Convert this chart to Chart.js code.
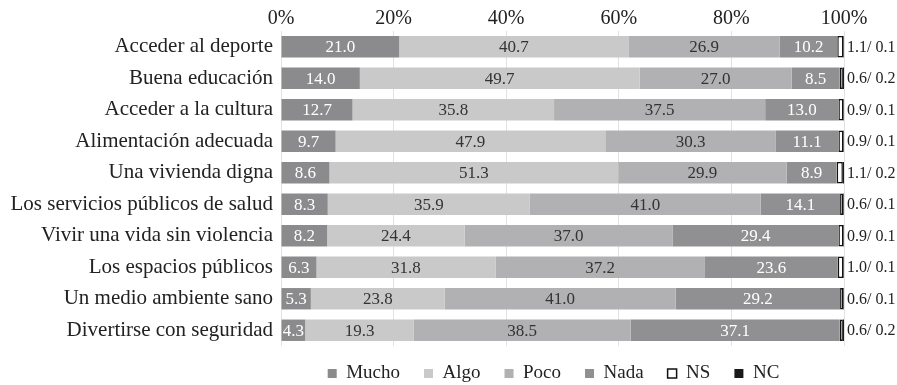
<!DOCTYPE html>
<html lang="es">
<head>
<meta charset="utf-8">
<title>Derechos</title>
<script src="https://cdn.jsdelivr.net/npm/chart.js@4.4.1/dist/chart.umd.min.js"></script>
<style>
    html, body { margin: 0; padding: 0; background: #fff; }
    #grafica-wrap { width: 897px; height: 385px; position: relative; }
</style>
</head>
<body>
<div id="grafica-wrap"><canvas id="grafica"></canvas></div>
<script>
// Categorías (eje vertical)
const categorias = [
    "Acceder al deporte",
    "Buena educación",
    "Acceder a la cultura",
    "Alimentación adecuada",
    "Una vivienda digna",
    "Los servicios públicos de salud",
    "Vivir una vida sin violencia",
    "Los espacios públicos",
    "Un medio ambiente sano",
    "Divertirse con seguridad"
];

// Porcentajes por respuesta
const mucho = [21.0, 14.0, 12.7, 9.7, 8.6, 8.3, 8.2, 6.3, 5.3, 4.3];
const algo  = [40.7, 49.7, 35.8, 47.9, 51.3, 35.9, 24.4, 31.8, 23.8, 19.3];
const poco  = [26.9, 27.0, 37.5, 30.3, 29.9, 41.0, 37.0, 37.2, 41.0, 38.5];
const nada  = [10.2, 8.5, 13.0, 11.1, 8.9, 14.1, 29.4, 23.6, 29.2, 37.1];
const ns    = [1.1, 0.6, 0.9, 0.9, 1.1, 0.6, 0.9, 1.0, 0.6, 0.6];
const nc    = [0.1, 0.2, 0.1, 0.1, 0.2, 0.1, 0.1, 0.1, 0.1, 0.2];

// Etiquetas del eje horizontal
const ticksX = [0, 20, 40, 60, 80, 100];

const FUENTE = "'Liberation Serif', 'DejaVu Serif', serif";

// Escribe el valor dentro de cada segmento y "NS/ NC" a la derecha
const etiquetasValores = {
    id: "etiquetasValores",
    afterDatasetsDraw(chart) {
        const ctx = chart.ctx;
        ctx.save();
        ctx.font = "17px " + FUENTE;
        ctx.textBaseline = "middle";
        chart.data.datasets.forEach((ds, i) => {
            if (i > 3) return;
            const meta = chart.getDatasetMeta(i);
            meta.data.forEach((bar, j) => {
                ctx.fillStyle = ds.colorTexto;
                ctx.textAlign = "center";
                ctx.fillText(ds.data[j].toFixed(1), (bar.x + bar.base) / 2, bar.y + 1);
            });
        });
        // valores NS / NC a la derecha de la barra
        const metaNs = chart.getDatasetMeta(4);
        ctx.font = "16px " + FUENTE;
        ctx.fillStyle = "#222";
        ctx.textAlign = "left";
        metaNs.data.forEach((bar, j) => {
            ctx.fillText(ns[j].toFixed(1) + "/ " + nc[j].toFixed(1), chart.chartArea.right + 3, bar.y + 1);
        });
        ctx.restore();
    }
};

// Leyenda: alto fijo y posición ajustada bajo las barras
const ajusteLeyenda = {
    id: "ajusteLeyenda",
    beforeInit(chart) {
        const lg = chart.legend;
        const fitOrig = lg.fit;
        lg.fit = function () {
            fitOrig.call(this);
            this.height = 37;
        };
    },
    afterLayout(chart) {
        const lg = chart.legend;
        lg.top -= 6;
        lg.bottom = chart.height;
        lg.left -= 9;
        lg.right -= 9;
    }
};

function serie(label, data, color, colorTexto, extra) {
    return Object.assign({
        label: label,
        data: data,
        backgroundColor: color,
        borderWidth: 0,
        colorTexto: colorTexto,
        barPercentage: 0.68,
        categoryPercentage: 1
    }, extra || {});
}

new Chart(document.getElementById("grafica"), {
    type: "bar",
    data: {
        labels: categorias,
        datasets: [
            serie("Mucho", mucho, "#8b8b8d", "#ffffff"),
            serie("Algo", algo, "#c9c9c9", "#333333"),
            serie("Poco", poco, "#b1b1b3", "#333333"),
            serie("Nada", nada, "#909092", "#ffffff"),
            serie("NS", ns, "#ffffff", "#222", { borderColor: "#111", borderWidth: 1.5, borderSkipped: false }),
            serie("NC", nc, "#1a1a1a", "#fff")
        ]
    },
    options: {
        indexAxis: "y",
        responsive: true,
        maintainAspectRatio: false,
        animation: false,
        layout: { padding: { left: 0, right: 53, top: 0, bottom: 2 } },
        scales: {
            x: {
                stacked: true,
                position: "top",
                min: 0,
                max: 100,
                afterBuildTicks(scale) {
                    scale.ticks = ticksX.map(v => ({ value: v }));
                },
                afterFit(scale) { scale.height = 31; },
                ticks: {
                    padding: 0,
                    color: "#222",
                    font: { family: FUENTE, size: 20 },
                    callback: v => v + "%"
                },
                grid: { color: "#e2e2e2", lineWidth: 1, drawTicks: false },
                border: { display: false }
            },
            y: {
                stacked: true,
                afterFit(scale) { scale.width = 281; },
                ticks: {
                    padding: 8,
                    color: "#222",
                    font: { family: FUENTE, size: 21 }
                },
                grid: { display: false, drawTicks: false },
                border: { display: false }
            }
        },
        plugins: {
            tooltip: { enabled: false },
            legend: {
                position: "bottom",
                fullSize: false,
                labels: {
                    color: "#222",
                    font: { family: FUENTE, size: 19 },
                    boxWidth: 9,
                    boxHeight: 9,
                    padding: 24
                }
            }
        }
    },
    plugins: [etiquetasValores, ajusteLeyenda]
});
</script>
</body>
</html>
